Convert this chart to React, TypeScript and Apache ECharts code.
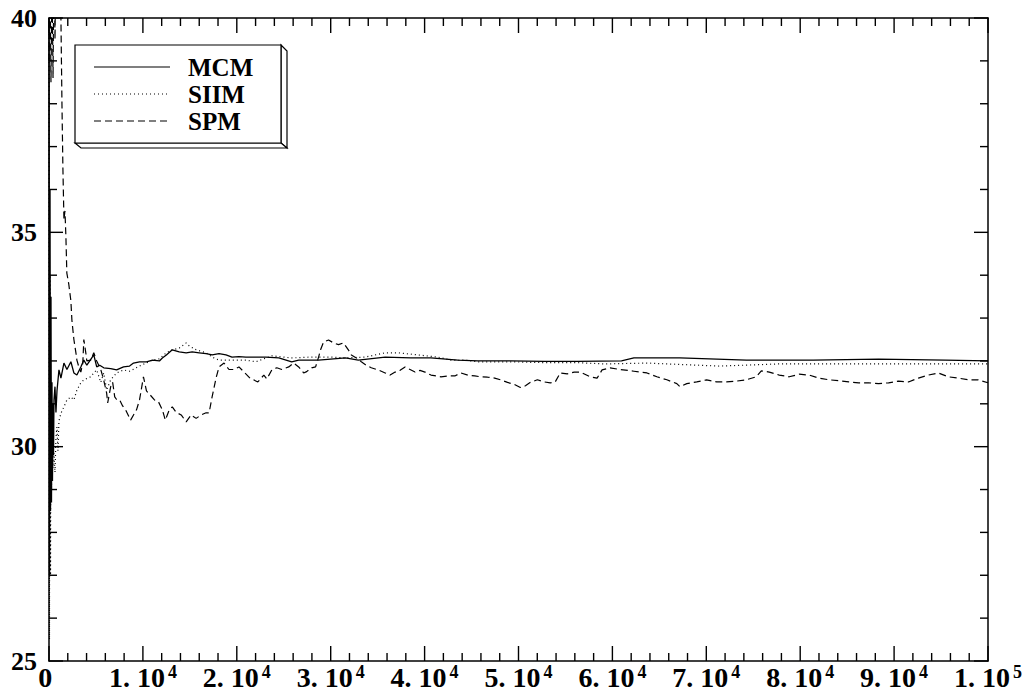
import React, { useEffect, useRef } from "react";
import * as echarts from "echarts";

const FONT = "'Liberation Serif', 'Times New Roman', serif";

const seriesNames = ["MCM", "SIIM", "SPM"];

const xTicks = [0, 10000, 20000, 30000, 40000, 50000, 60000, 70000, 80000, 90000, 100000];
const yTicks = [25, 30, 35, 40];

const mcmData: [number, number][] = [
  [0, 40], [60, 27], [110, 36], [160, 28.5], [212, 33.5], [265, 28.7], [318, 31.5], [370, 29.2],
  [424, 31.0], [480, 29.8], [530, 31.09], [636, 31.4], [740, 30.8], [850, 31.3], [1060, 31.79],
  [1270, 31.6], [1590, 31.95], [1910, 31.8], [2330, 31.98], [2650, 31.72], [2970, 31.67],
  [3390, 31.86], [3710, 32.02], [4030, 31.9], [4770, 32.14], [5080, 31.86], [5400, 31.9],
  [5830, 31.84], [6570, 31.82], [7200, 31.79], [7940, 31.86], [8580, 31.88], [9000, 31.95],
  [9640, 31.98], [10380, 31.98], [11020, 32.02], [11760, 32.0], [12070, 32.07], [12500, 32.14],
  [13130, 32.26], [13870, 32.21], [14610, 32.19], [15250, 32.21], [15990, 32.19], [16730, 32.17],
  [17370, 32.14], [18110, 32.17], [18850, 32.14], [19490, 32.09], [20230, 32.1], [20970, 32.09],
  [23090, 32.09], [24470, 32.07], [25850, 31.98], [26590, 32.02], [28710, 32.02], [31570, 32.07],
  [32940, 32.02], [35800, 32.09], [38550, 32.07], [40680, 32.07], [43540, 32.02], [45660, 32.0],
  [49150, 32.0], [52750, 31.99], [56250, 31.99], [60970, 32.0], [62290, 32.07], [67180, 32.07],
  [74270, 32.02], [81370, 32.02], [88350, 32.04], [95450, 32.02], [100000, 32.0],
];

const siimData: [number, number][] = [
  [0, 40], [50, 25.5], [106, 34], [160, 27], [212, 31], [265, 29], [318, 30.16], [424, 29.5],
  [530, 29.85], [636, 29.4], [740, 30.2], [847, 30.46], [953, 29.9], [1060, 30.6], [1271, 30.78],
  [1590, 30.93], [1910, 31.09], [2330, 31.16], [2650, 31.09], [2970, 31.32], [3390, 31.49],
  [3710, 31.56], [4450, 31.63], [4770, 31.72], [5080, 31.79], [5510, 31.5], [5830, 31.72],
  [6140, 31.32], [6570, 31.56], [7200, 31.72], [7940, 31.79], [8580, 31.76], [9640, 31.88],
  [11020, 32.02], [11760, 32.05], [12500, 32.19], [13130, 32.26], [13870, 32.3], [14610, 32.42],
  [14930, 32.35], [15670, 32.26], [16730, 32.19], [17370, 32.09], [18110, 32.02], [19490, 32.02],
  [20970, 32.02], [22030, 31.98], [23730, 32.12], [25850, 32.07], [27970, 32.09], [30090, 32.09],
  [31570, 32.07], [33690, 32.09], [35800, 32.19], [37180, 32.19], [39300, 32.14], [41420, 32.09],
  [42800, 32.02], [44280, 32.02], [45660, 31.98], [49150, 31.98], [52750, 31.96], [56250, 31.96],
  [59110, 31.93], [63680, 31.95], [71400, 31.88], [77750, 31.93], [84850, 31.93], [91950, 31.93],
  [100000, 31.93],
];

const spmData: [number, number][] = [
  [0, 39], [110, 41], [210, 38.5], [320, 41], [430, 38.6], [530, 41.5], [640, 39.5], [750, 42],
  [900, 42], [1060, 41], [1270, 40], [1380, 38], [1480, 36.5], [1590, 35.3], [1700, 35.5],
  [1800, 34.9], [1900, 34.05], [2100, 33.8], [2330, 33.4], [2440, 32.95], [2650, 32.5],
  [2860, 32.2], [2970, 32.02], [3180, 31.86], [3390, 31.74], [3600, 31.95], [3710, 32.5],
  [3920, 32.19], [4030, 32.0], [4450, 32.02], [4770, 32.19], [5080, 32.0], [5510, 31.8],
  [5820, 31.56], [6140, 31.25], [6250, 31.02], [6570, 31.4], [6780, 31.5], [7000, 31.16],
  [7200, 31.1], [7520, 31.09], [7840, 30.95], [8160, 30.86], [8690, 30.62], [9000, 30.74],
  [9320, 30.86], [9640, 31.09], [10060, 31.63], [10380, 31.3], [10800, 31.2], [11230, 31.09],
  [11650, 31.05], [12070, 30.86], [12390, 30.62], [12810, 30.86], [13130, 30.93], [13550, 30.8],
  [14080, 30.74], [14610, 30.58], [15140, 30.74], [15670, 30.66], [16200, 30.74], [16730, 30.79],
  [17050, 30.79], [17370, 31.16], [17790, 31.6], [18110, 31.86], [18640, 31.95], [19170, 31.8],
  [19700, 31.8], [20230, 31.86], [20870, 31.72], [21400, 31.6], [22240, 31.51], [22880, 31.67],
  [23200, 31.58], [23730, 31.79], [24260, 31.84], [24790, 31.8], [25530, 31.86], [26060, 31.95],
  [26590, 31.86], [27120, 31.72], [27440, 31.75], [27970, 31.84], [28390, 31.86], [28710, 32.09],
  [28920, 32.26], [29240, 32.44], [29770, 32.49], [30300, 32.42], [30830, 32.38], [31360, 32.42],
  [31880, 32.26], [32200, 32.14], [32730, 32.07], [33260, 31.98], [33790, 31.9], [34320, 31.84],
  [35060, 31.79], [35800, 31.72], [36330, 31.67], [36860, 31.74], [37390, 31.78], [37920, 31.86],
  [38450, 31.8], [38980, 31.74], [39510, 31.78], [40040, 31.74], [40680, 31.67], [41740, 31.63],
  [42480, 31.65], [43220, 31.65], [43860, 31.72], [44600, 31.67], [45340, 31.65], [45980, 31.63],
  [46710, 31.62], [47460, 31.6], [48090, 31.56], [48830, 31.5], [49570, 31.45], [50200, 31.38],
  [50740, 31.42], [51270, 31.5], [52010, 31.56], [52750, 31.51], [53390, 31.49], [53910, 31.51],
  [54450, 31.72], [55190, 31.7], [55930, 31.74], [56570, 31.74], [57630, 31.63], [58370, 31.6],
  [58900, 31.79], [59750, 31.84], [60810, 31.8], [62290, 31.76], [63680, 31.72], [64740, 31.63],
  [65800, 31.56], [66860, 31.47], [67180, 31.4], [67920, 31.47], [68980, 31.51], [70040, 31.56],
  [71100, 31.51], [72150, 31.51], [73210, 31.53], [74270, 31.56], [75330, 31.63], [75860, 31.77],
  [76710, 31.74], [77770, 31.67], [78830, 31.63], [79890, 31.69], [80950, 31.67], [82000, 31.6],
  [83060, 31.56], [84120, 31.54], [85180, 31.51], [86240, 31.49], [87300, 31.49], [88350, 31.47],
  [89410, 31.49], [90470, 31.53], [91530, 31.51], [92590, 31.6], [93650, 31.67], [94710, 31.72],
  [95770, 31.63], [96830, 31.6], [97880, 31.56], [98940, 31.56], [100000, 31.49],
];

const lineTypes: (number[] | "solid")[] = ["solid", [1, 3], [7, 4]];

const X_MINOR_STEP = 2000;
const Y_MINOR_STEP = 1;

function xLabel(v: number): string {
  if (v === 0) return "{b|0}{s| }";
  if (v === 100000) return "{b|1. 10}{s|5}";
  return `{b|${v / 10000}. 10}{s|4}`;
}

function tickLine(x1: number, y1: number, x2: number, y2: number) {
  return {
    type: "line",
    z: 10,
    silent: true,
    shape: { x1, y1, x2, y2 },
    style: { stroke: "#000", lineWidth: 1.4 },
  };
}

export default function App() {
  const ref = useRef<HTMLDivElement>(null);
  useEffect(() => {
    if (!ref.current) return;
    const chart = echarts.init(ref.current, null, { renderer: "svg" });
    const common = {
      type: "line",
      showSymbol: false,
      symbol: "none",
      clip: true,
    };
    const legendGraphics: any[] = [
      {
        type: "polygon",
        z: 5,
        shape: { points: [[281, 45], [287, 51], [287, 148], [281, 143]] },
        style: { fill: "#fff", stroke: "#000", lineWidth: 1.2 },
      },
      {
        type: "polygon",
        z: 5,
        shape: { points: [[75, 143], [281, 143], [287, 148], [81, 148]] },
        style: { fill: "#fff", stroke: "#000", lineWidth: 1.2 },
      },
      {
        type: "rect",
        z: 5,
        shape: { x: 75, y: 45, width: 206, height: 98 },
        style: { fill: "#fff", stroke: "#000", lineWidth: 1.2 },
      },
    ];
    seriesNames.forEach((name, i) => {
      const cy = 67 + i * 27;
      const lt = lineTypes[i];
      legendGraphics.push({
        type: "line",
        z: 6,
        shape: { x1: 94, y1: cy, x2: 170, y2: cy },
        style: lt === "solid" ? { stroke: "#000", lineWidth: 1.2 } : { stroke: "#000", lineWidth: 1.2, lineDash: lt },
      });
      legendGraphics.push({
        type: "text",
        z: 6,
        x: 188,
        y: cy,
        style: {
          text: name,
          fontFamily: FONT,
          fontWeight: "bold",
          fontSize: 25,
          fill: "#000",
          verticalAlign: "middle",
          align: "left",
        },
      });
    });
    const axisLine = () => ({ show: true, onZero: false, lineStyle: { color: "#000", width: 1.5 } });
    const xMin = xTicks[0];
    const xMax = xTicks[xTicks.length - 1];
    const yMin = yTicks[0];
    const yMax = yTicks[yTicks.length - 1];
    chart.setOption({
      animation: false,
      backgroundColor: "#fff",
      grid: { left: 49, right: 32, top: 18, bottom: 39, containLabel: false },
      xAxis: [
        {
          type: "value",
          position: "bottom",
          min: xMin,
          max: xMax,
          interval: 10000,
          axisLine: axisLine(),
          axisTick: { show: false },
          splitLine: { show: false },
          axisLabel: {
            show: true,
            margin: 2,
            color: "#000",
            fontFamily: FONT,
            fontWeight: "bold",
            fontSize: 28,
            formatter: xLabel,
            rich: {
              b: { fontFamily: FONT, fontWeight: "bold", fontSize: 28, lineHeight: 28, verticalAlign: "bottom", color: "#000" },
              s: { fontFamily: FONT, fontWeight: "bold", fontSize: 18, lineHeight: 18, verticalAlign: "top", padding: [0, 0, 15, 3], color: "#000" },
            },
          },
        },
        {
          type: "value",
          position: "top",
          min: xMin,
          max: xMax,
          interval: 10000,
          axisLine: axisLine(),
          axisTick: { show: false },
          splitLine: { show: false },
          axisLabel: { show: false },
        },
      ],
      yAxis: [
        {
          type: "value",
          position: "left",
          min: yMin,
          max: yMax,
          interval: 5,
          axisLine: axisLine(),
          axisTick: { show: false },
          splitLine: { show: false },
          axisLabel: {
            show: true,
            margin: 12,
            color: "#000",
            fontFamily: FONT,
            fontWeight: "bold",
            fontSize: 26,
          },
        },
        {
          type: "value",
          position: "right",
          min: yMin,
          max: yMax,
          interval: 5,
          axisLine: axisLine(),
          axisTick: { show: false },
          splitLine: { show: false },
          axisLabel: { show: false },
        },
      ],
      series: [
        { ...common, name: seriesNames[0], data: mcmData, lineStyle: { color: "#000", width: 1.3, type: lineTypes[0] } },
        { ...common, name: seriesNames[1], data: siimData, lineStyle: { color: "#000", width: 1.2, type: lineTypes[1] } },
        { ...common, name: seriesNames[2], data: spmData, lineStyle: { color: "#000", width: 1.2, type: lineTypes[2] } },
      ],
    });

    // Tick marks on all four sides, placed through the axes' own scales.
    const tickGraphics: any[] = [];
    const bottomY = chart.convertToPixel({ yAxisIndex: 0 }, yMin) as number;
    const topY = chart.convertToPixel({ yAxisIndex: 0 }, yMax) as number;
    const leftX = chart.convertToPixel({ xAxisIndex: 0 }, xMin) as number;
    const rightX = chart.convertToPixel({ xAxisIndex: 0 }, xMax) as number;
    for (let v = xMin; v <= xMax; v += X_MINOR_STEP) {
      const px = chart.convertToPixel({ xAxisIndex: 0 }, v) as number;
      const len = v % 10000 === 0 ? 15 : 8;
      tickGraphics.push(tickLine(px, bottomY, px, bottomY - len));
      tickGraphics.push(tickLine(px, topY, px, topY + len));
    }
    for (let v = yMin; v <= yMax; v += Y_MINOR_STEP) {
      const py = chart.convertToPixel({ yAxisIndex: 0 }, v) as number;
      const len = v % 5 === 0 ? 14 : 8;
      tickGraphics.push(tickLine(leftX, py, leftX + len, py));
      tickGraphics.push(tickLine(rightX, py, rightX - len, py));
    }
    chart.setOption({ graphic: [...legendGraphics, ...tickGraphics] });
    return () => chart.dispose();
  }, []);
  return (
    <div
      ref={ref}
      style={{ position: "fixed", left: 0, top: 0, width: 1025, height: 700, background: "#fff" }}
    />
  );
}
